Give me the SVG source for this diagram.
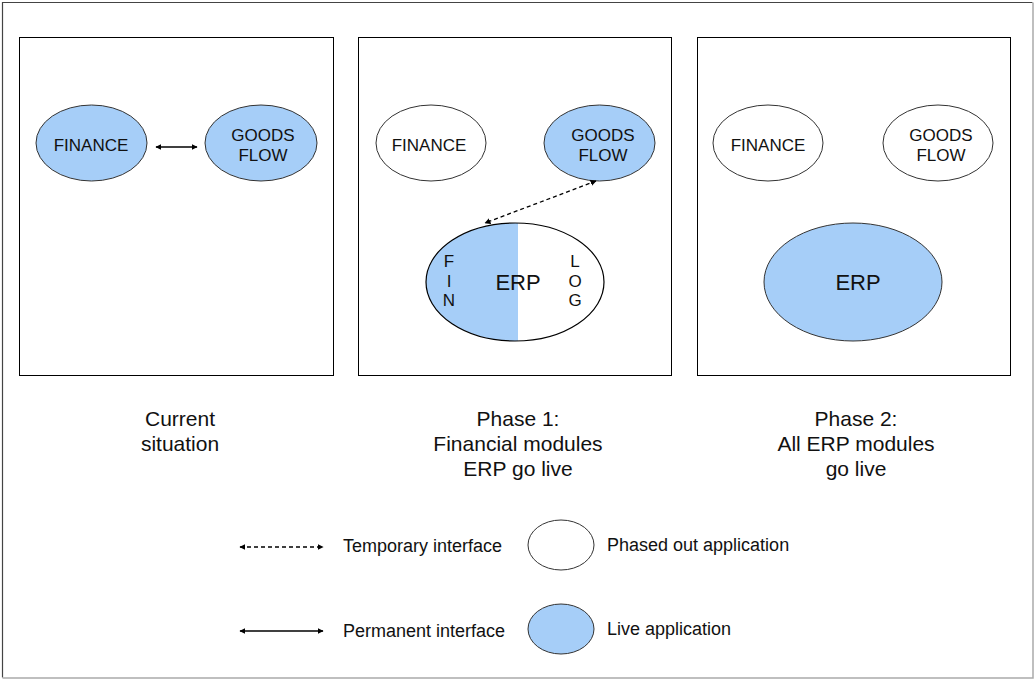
<svg xmlns="http://www.w3.org/2000/svg" width="1035" height="680" viewBox="0 0 1035 680">
<defs>
<style>
.frame{fill:#fff;stroke:#000;stroke-width:1}
.live{fill:#a6cef8;stroke:#333;stroke-width:1}
.out{fill:#fff;stroke:#333;stroke-width:1}
.t{font-family:"Liberation Sans",Arial,sans-serif;fill:#111;text-anchor:middle}
.n{font-size:17px}
.big{font-size:22px}
.cap{font-size:21px}
.leg{font-family:"Liberation Sans",Arial,sans-serif;fill:#111;font-size:18px}
.conn{stroke:#000;stroke-width:1.3;fill:none;marker-start:url(#ah);marker-end:url(#ah)}
.dash{stroke-dasharray:4 3}
</style>
<marker id="ah" viewBox="0 0 10 10" refX="9" refY="5" markerWidth="6" markerHeight="6" orient="auto-start-reverse" markerUnits="userSpaceOnUse">
<path d="M0,0 L10,5 L0,10 z" fill="#000"/>
</marker>
</defs>
<rect x="0" y="0" width="1035" height="680" fill="#fff"/>
<path d="M2.5,677.5 V2.5 H1032.5" fill="none" stroke="#444" stroke-width="1.2"/>
<path d="M1033,2.5 V678 H2.5" fill="none" stroke="#aaa" stroke-width="1.5"/>

<g id="panel-current">
<rect class="frame" x="19.5" y="37.5" width="314" height="338"/>
</g>
<g id="panel-phase1">
<rect class="frame" x="358.5" y="37.5" width="313" height="338"/>
</g>
<g id="panel-phase2">
<rect class="frame" x="697.5" y="37.5" width="313" height="338"/>
</g>

<g id="cur-finance">
<ellipse class="live" cx="91.5" cy="143" rx="55.5" ry="38"/>
<text class="t n" x="91" y="151">FINANCE</text>
</g>
<g id="cur-goods">
<ellipse class="live" cx="261" cy="143" rx="56" ry="38"/>
<text class="t n" x="263" y="141">GOODS</text>
<text class="t n" x="263" y="161">FLOW</text>
</g>

<g id="p1-finance">
<ellipse class="out" cx="431" cy="143" rx="55" ry="38"/>
<text class="t n" x="429" y="151">FINANCE</text>
</g>
<g id="p1-goods">
<ellipse class="live" cx="599.5" cy="143" rx="55.5" ry="38"/>
<text class="t n" x="603" y="141">GOODS</text>
<text class="t n" x="603" y="161">FLOW</text>
</g>
<g id="p1-erp">
<clipPath id="erpclip"><ellipse cx="515" cy="282" rx="89" ry="59"/></clipPath>
<ellipse cx="515" cy="282" rx="89" ry="59" fill="#fff"/>
<rect x="420" y="220" width="98" height="125" fill="#a6cef8" clip-path="url(#erpclip)"/>
<ellipse cx="515" cy="282" rx="89" ry="59" fill="none" stroke="#000" stroke-width="1.2"/>
<text class="t big" x="518" y="290">ERP</text>
<text class="t n" x="449" y="267">F</text>
<text class="t n" x="449" y="287">I</text>
<text class="t n" x="449" y="306">N</text>
<text class="t n" x="575" y="267">L</text>
<text class="t n" x="575" y="287">O</text>
<text class="t n" x="575" y="306">G</text>
</g>

<g id="p2-finance">
<ellipse class="out" cx="768" cy="143" rx="55" ry="38"/>
<text class="t n" x="768" y="151">FINANCE</text>
</g>
<g id="p2-goods">
<ellipse class="out" cx="938" cy="143" rx="55" ry="38"/>
<text class="t n" x="941" y="141">GOODS</text>
<text class="t n" x="941" y="161">FLOW</text>
</g>
<g id="p2-erp">
<ellipse class="live" cx="853" cy="282" rx="89" ry="59"/>
<text class="t big" x="858" y="290">ERP</text>
</g>

<g id="captions">
<text class="t cap" x="180" y="426">Current</text>
<text class="t cap" x="180" y="451">situation</text>
<text class="t cap" x="518" y="426">Phase 1:</text>
<text class="t cap" x="518" y="451">Financial modules</text>
<text class="t cap" x="518" y="476">ERP go live</text>
<text class="t cap" x="856" y="426">Phase 2:</text>
<text class="t cap" x="856" y="451">All ERP modules</text>
<text class="t cap" x="856" y="476">go live</text>
</g>

<g id="connectors">
<line class="conn" x1="156" y1="147" x2="197" y2="147"/>
<line class="conn dash" x1="596" y1="181" x2="485" y2="223"/>
<line class="conn dash" x1="240" y1="547" x2="323" y2="547"/>
<line class="conn" x1="240" y1="631" x2="323" y2="631"/>
</g>

<g id="legend">
<text class="leg" x="343" y="552">Temporary interface</text>
<ellipse class="out" cx="561" cy="545" rx="33" ry="25"/>
<text class="leg" x="607" y="551">Phased out application</text>
<text class="leg" x="343" y="637">Permanent interface</text>
<ellipse class="live" cx="561" cy="629" rx="33" ry="25"/>
<text class="leg" x="607" y="635">Live application</text>
</g>
</svg>
